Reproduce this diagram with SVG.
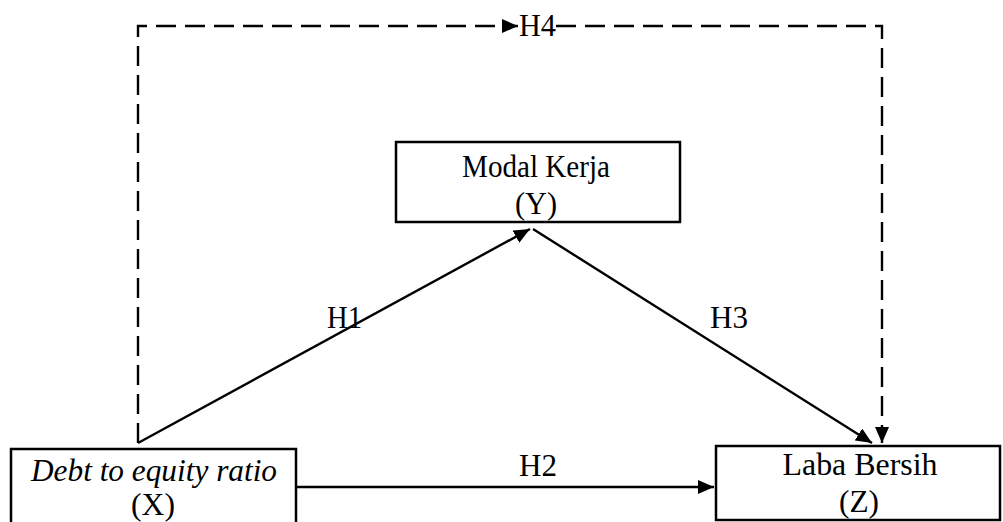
<svg xmlns="http://www.w3.org/2000/svg" width="1003" height="522" viewBox="0 0 1003 522">
  <style>
    .box { fill: #fff; stroke: #000; stroke-width: 2.5; }
    .lbl { font-family: "Liberation Serif", "Times New Roman", serif; font-size: 31px; fill: #000; }
    .mid { text-anchor: middle; }
    .it { font-style: italic; }
    .edge { fill: none; stroke: #000; stroke-width: 2.4; }
    .dash { stroke-dasharray: 20 9; }
  </style>
  <defs>
    <marker id="arrow" markerUnits="userSpaceOnUse" markerWidth="16" markerHeight="14" viewBox="0 0 16 14" refX="16" refY="7" orient="auto">
      <path d="M0,0 L16,7 L0,14 Z" fill="#000"/>
    </marker>
  </defs>
  <rect width="1003" height="522" fill="#fff"/>

  <!-- connectors -->
  <g id="connectors">
    <!-- H4: dashed route over the top -->
    <polyline class="edge dash" points="138,443 138,26 518,26" marker-end="url(#arrow)"/>
    <polyline class="edge dash" points="556,26 882,26 882,443" marker-end="url(#arrow)"/>
    <!-- H1 -->
    <line class="edge" x1="138" y1="443" x2="530" y2="229" marker-end="url(#arrow)"/>
    <!-- H3 -->
    <line class="edge" x1="533" y1="229" x2="872" y2="443" marker-end="url(#arrow)"/>
    <!-- H2 -->
    <line class="edge" x1="296" y1="487" x2="714" y2="487" marker-end="url(#arrow)"/>
    <text class="lbl" x="519" y="36" textLength="37" lengthAdjust="spacingAndGlyphs">H4</text>
    <text class="lbl" x="327" y="328" textLength="35" lengthAdjust="spacingAndGlyphs">H1</text>
    <text class="lbl" x="710" y="328" textLength="38" lengthAdjust="spacingAndGlyphs">H3</text>
    <text class="lbl" x="519" y="476" textLength="38" lengthAdjust="spacingAndGlyphs">H2</text>
  </g>

  <g id="node-y">
    <rect class="box" x="396" y="142" width="284" height="80"/>
    <text class="lbl mid" x="536" y="177" textLength="148" lengthAdjust="spacingAndGlyphs">Modal Kerja</text>
    <text class="lbl mid" x="536" y="214" textLength="42" lengthAdjust="spacingAndGlyphs">(Y)</text>
  </g>

  <g id="node-x">
    <rect class="box" x="11" y="449" width="285" height="80"/>
    <text class="lbl mid it" x="154" y="481" textLength="246" lengthAdjust="spacingAndGlyphs">Debt to equity ratio</text>
    <text class="lbl mid" x="153" y="515" textLength="44" lengthAdjust="spacingAndGlyphs">(X)</text>
  </g>

  <g id="node-z">
    <rect class="box" x="716" y="446" width="284" height="74"/>
    <text class="lbl mid" x="860" y="475" textLength="155" lengthAdjust="spacingAndGlyphs">Laba Bersih</text>
    <text class="lbl mid" x="859" y="512" textLength="40" lengthAdjust="spacingAndGlyphs">(Z)</text>
  </g>
</svg>
